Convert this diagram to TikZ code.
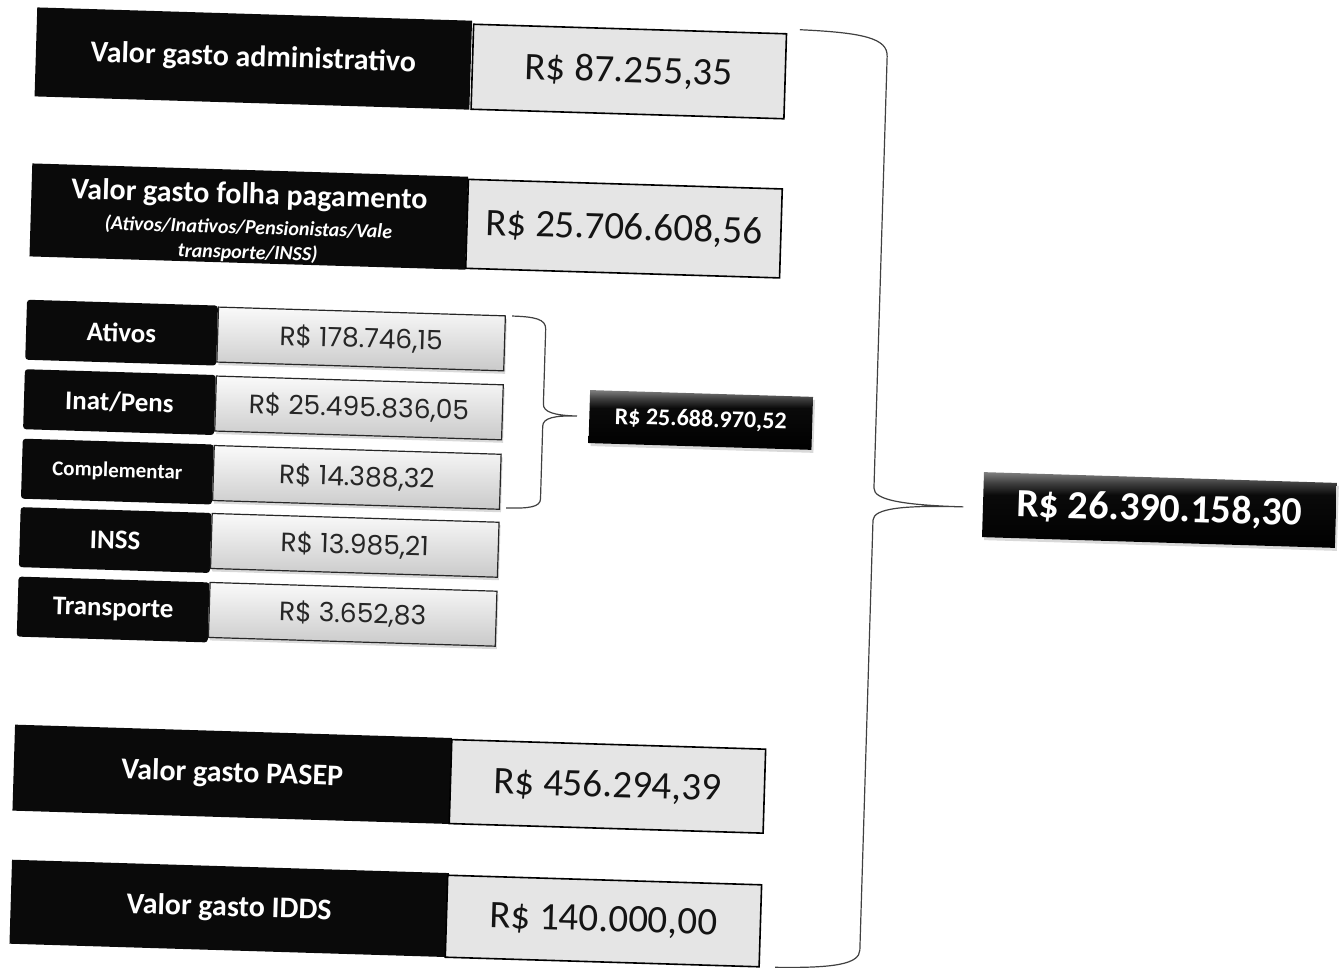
\documentclass[tikz,border=0pt]{standalone}
\usepackage{fontspec}
\setmainfont{Carlito}
\newfontfamily\gothic{Poppins}
\usetikzlibrary{shadows}
\pgfdeclareverticalshading{gloss}{100bp}{color(0bp)=(black); color(25bp)=(black); color(60bp)=(black!96!white); color(68bp)=(black!75!white); color(75bp)=(black!50!white); color(100bp)=(black!50!white)}
\begin{document}
\begin{tikzpicture}[x=1pt,y=-1pt,
  biglab/.style={fill=black!96, text=white, inner sep=0pt, align=center,
    font=\bfseries\fontsize{30}{33}\selectfont},
  bigval/.style={fill=gray!20, draw=black, line width=1.6pt, inner sep=0pt,
    text=black!92, font=\fontsize{39}{44}\selectfont},
  smalllab/.style={fill=black!96, rounded corners=3pt, text=white, inner sep=0pt,
    minimum width=191pt, minimum height=60pt,
    font=\bfseries\fontsize{27}{30}\selectfont},
  smallval/.style={top color=gray!4, bottom color=gray!42, draw=black!85, line width=1.2pt,
    minimum width=287pt, minimum height=55pt, inner sep=0pt,
    text=black!85, font=\gothic\fontsize{26.5}{30}\selectfont,
    drop shadow={opacity=0.3, shadow xshift=1.5pt, shadow yshift=-3pt}},
  glossbox/.style={shade, shading=gloss, text=white, inner sep=0pt,
    drop shadow={opacity=0.3, shadow xshift=2pt, shadow yshift=-3pt}},
  bracel/.style={draw=black!75, line width=1.2pt}]
\useasboundingbox (0,0) rectangle (1343,968);
\begin{scope}[rotate around={-1.75:(671.5,484)}, transform shape]
% big rows
\node[biglab, minimum width=435pt, minimum height=89pt] (adminL) at (240.5,71.5) {Valor gasto administrativo};
\node[bigval, minimum width=313pt, minimum height=85pt] (adminV) at (616.2,73) {R\$ 87.255,35};
\node[biglab, minimum width=436pt, minimum height=93pt] (folhaL) at (240.8,229.6)
  {\rule{0pt}{33pt}Valor gasto folha pagamento\\[-3pt]
   {\fontsize{20}{24}\selectfont\itshape (Ativos/Inativos/Pensionistas/Vale}\\[-8pt]
   {\fontsize{20}{24}\selectfont\itshape transporte/INSS)}};
\node[bigval, minimum width=314pt, minimum height=89pt] (folhaV) at (616.2,230.2) {R\$ 25.706.608,56};
% detail rows
\node[smalllab] (atL) at (117.2,349.5) {Ativos};
\node[smallval] (atV) at (356.8,348.5) {R\$ 178.746,15};
\node[smalllab] (inL) at (117.2,419) {Inat/Pens};
\node[smallval] (inV) at (356.8,417.5) {R\$ 25.495.836,05};
\node[smalllab, font=\bfseries\fontsize{21}{25}\selectfont] (coL) at (117.2,488.5) {Complementar};
\node[smallval] (coV) at (356.8,487) {R\$ 14.388,32};
\node[smalllab] (nsL) at (117.2,557) {INSS};
\node[smallval] (nsV) at (356.8,555) {R\$ 13.985,21};
\node[smalllab] (trL) at (117.2,626.5) {Transporte};
\node[smallval] (trV) at (356.8,624) {R\$ 3.652,83};
% subtotal
\node[glossbox, minimum width=223pt, minimum height=53pt, font=\bfseries\fontsize{24}{28}\selectfont] (subT) at (698.8,419.1) {R\$ 25.688.970,52};
% other big rows
\node[biglab, minimum width=437pt, minimum height=86pt] (pasL) at (241.2,787.6) {Valor gasto PASEP};
\node[bigval, minimum width=314pt, minimum height=84pt] (pasV) at (616.7,788.2) {R\$ 456.294,39};
\node[biglab, minimum width=437pt, minimum height=84pt] (idL) at (242.3,921.7) {Valor gasto IDDS};
\node[bigval, minimum width=314pt, minimum height=82pt] (idV) at (616.8,922.9) {R\$ 140.000,00};
% total
\node[glossbox, minimum width=353pt, minimum height=65pt, font=\bfseries\fontsize{40}{44}\selectfont] (total) at (1160,495.1) {R\$ 26.390.158,30};
% braces
\coordinate (sbTop) at (507,321);
\coordinate (sbTip) at (575,419);
\coordinate (sbBot) at (507,513);
\draw[bracel] (sbTop) .. controls (530,321) and (541,323) .. (541,333) -- (541,408)
  .. controls (541,416) and (552,419) .. (sbTip)
  .. controls (552,419) and (541,422) .. (541,430) -- (541,503)
  .. controls (541,511) and (530,513) .. (sbBot);
\coordinate (bbTop) at (786,26);
\coordinate (bbTip) at (964,498);
\coordinate (bbBot) at (790,964);
\draw[bracel] (bbTop) .. controls (850,27) and (874,32) .. (874,50) -- (874,482)
  .. controls (874,494) and (905,498) .. (bbTip)
  .. controls (905,498) and (874,502) .. (874,514) -- (874,944)
  .. controls (874,958) and (850,963) .. (bbBot);
\end{scope}
\end{tikzpicture}
\end{document}
